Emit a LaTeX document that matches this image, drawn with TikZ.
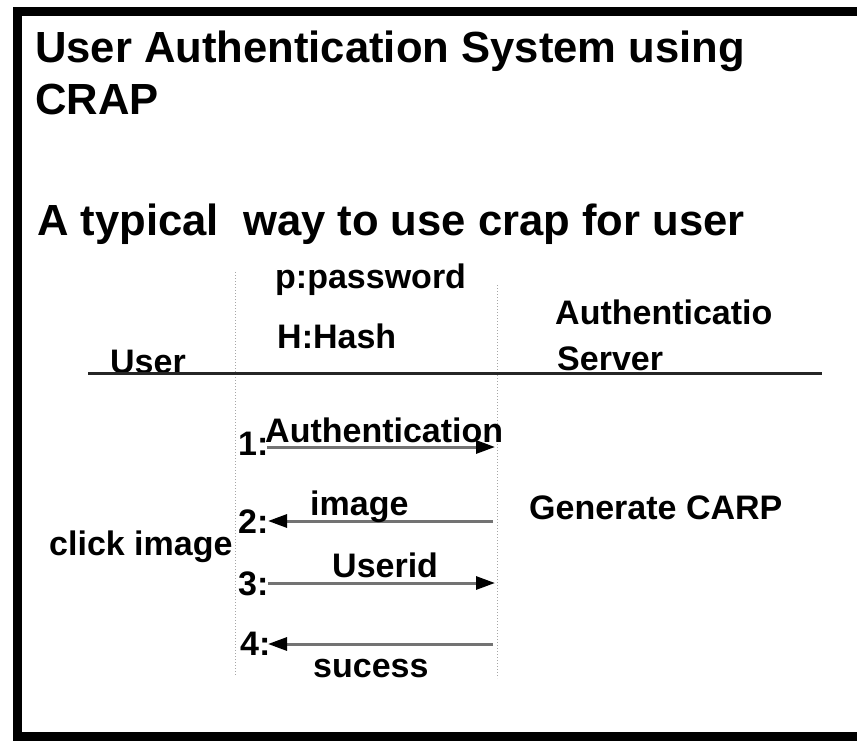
\documentclass[tikz,border=0pt]{standalone}
\usepackage{fontspec}
\setmainfont{Liberation Sans}
\usetikzlibrary{arrows.meta}
\begin{document}
\begin{tikzpicture}[x=1pt,y=-1pt,
  head/.style={anchor=base west,inner sep=0pt,font=\fontsize{43.6}{52}\selectfont\bfseries},
  body/.style={anchor=base west,inner sep=0pt,font=\fontsize{34}{40}\selectfont\bfseries},
  life/.style={draw=black!35,line width=1pt,dotted},
  msg/.style={draw=black!55,line width=3pt,-{Triangle[length=19pt,width=13pt,color=black]}}]
\useasboundingbox (0,0) rectangle (857,741);
\fill[white] (0,0) rectangle (857,741);
% frame
\draw[line width=9pt] (880,11.5) -- (17.5,11.5) -- (17.5,736.5) -- (880,736.5);
% headings
\node[head] (t1) at (35,63) {User Authentication System using};
\node[head] (t2) at (35,115) {CRAP};
\node[head] (t3) at (37,235) {A typical\ \ way to use crap for user};
% lifelines
\coordinate (l1top) at (235,272);
\coordinate (l1bot) at (235,676);
\coordinate (l2top) at (497,285);
\coordinate (l2bot) at (497,678);
\draw[life] (l1top) -- (l1bot);
\draw[life] (l2top) -- (l2bot);
% header labels
\node[body] (pw) at (275,288) {p:password};
\node[body] (hh) at (277,348) {H:Hash};
\node[body] (srv1) at (555,324) {Authenticatio};
\node[body] (srv2) at (557,370) {Server};
\node[body] (usr) at (110,373) {User};
\coordinate (hl) at (88,373);
\coordinate (hr) at (822,373);
\draw[line width=3pt,black!85] (hl) -- (hr);
% side labels
\node[body] (gen) at (529,519) {Generate CARP};
\node[body] (click) at (49,555) {click image};
% step numbers
\node[body] (n1) at (238,455) {1:};
\node[body] (n2) at (238,533) {2:};
\node[body] (n3) at (238,595) {3:};
\node[body] (n4) at (240,655) {4:};
% messages
\coordinate (a1s) at (267,447); \coordinate (a1e) at (495,447);
\coordinate (a2s) at (493,521); \coordinate (a2e) at (268,521);
\coordinate (a3s) at (268,583); \coordinate (a3e) at (495,583);
\coordinate (a4s) at (493,644); \coordinate (a4e) at (268,644);
\draw[msg] (a1s) -- (a1e);
\draw[msg] (a2s) -- (a2e);
\draw[msg] (a3s) -- (a3e);
\draw[msg] (a4s) -- (a4e);
\node[body] (m1) at (265,442) {Authentication};
\node[body] (m2) at (310,515) {image};
\node[body] (m3) at (332,577) {Userid};
\node[body] (m4) at (313,677) {sucess};
\end{tikzpicture}
\end{document}
